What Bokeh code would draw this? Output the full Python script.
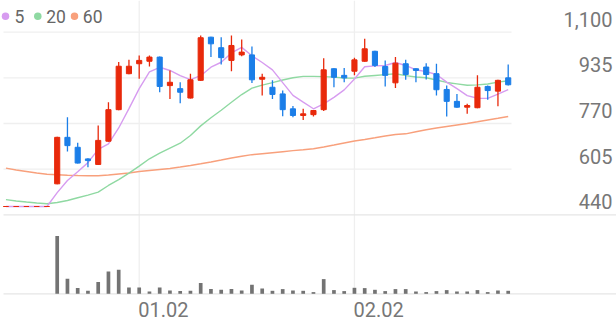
import numpy as np
import pandas as pd
from bokeh.plotting import figure
from bokeh.models import Range1d
from bokeh.core.properties import value
from bokeh.embed import file_html
from bokeh.resources import INLINE

# ---------------- data ----------------
opens = [470, 470, 470, 470, 470, 552, 720, 684, 642, 622,
         706, 820, 950, 986, 995, 1010, 907, 896, 862, 926,
         1082, 1044, 998, 1018, 1018, 930, 901, 877, 823, 799,
         802, 820, 968, 944, 959, 995, 1031, 976, 917, 986,
         968, 974, 950, 893, 850, 829, 827, 904, 887, 935]
highs = [470, 470, 470, 470, 470, 722, 793, 700, 644, 763,
         847, 992, 1000, 1016, 1016, 1012, 962, 919, 950, 1088,
         1084, 1082, 1088, 1074, 1048, 950, 926, 889, 833, 823,
         819, 1006, 970, 971, 1008, 1076, 1033, 998, 1010, 1000,
         970, 988, 986, 907, 877, 841, 944, 907, 928, 983]
lows = [470, 470, 470, 470, 470, 550, 669, 625, 612, 620,
        704, 818, 948, 932, 976, 883, 859, 843, 860, 924,
        1010, 983, 959, 1013, 916, 871, 859, 796, 793, 783,
        795, 815, 901, 919, 944, 993, 974, 904, 898, 928,
        919, 929, 871, 795, 827, 805, 825, 856, 832, 907]
closes = [470, 470, 470, 470, 470, 720, 690, 627, 636, 709,
          820, 977, 977, 998, 1010, 904, 919, 883, 928, 1080,
          1058, 1008, 1052, 1028, 928, 937, 875, 820, 799, 805,
          817, 964, 937, 935, 1000, 1040, 980, 944, 988, 947,
          962, 947, 892, 850, 829, 835, 901, 889, 926, 910]
volumes = [0, 0, 0, 0, 0, 5770, 1500, 570, 300, 1170,
           2230, 2400, 630, 630, 230, 630, 330, 270, 300, 1070,
           470, 400, 470, 330, 900, 530, 300, 470, 330, 300,
           170, 1470, 370, 270, 600, 570, 400, 270, 470, 470,
           230, 170, 270, 370, 230, 230, 370, 170, 330, 300]
ma20 = [494.7, 490.0, 486.3, 482.7, 479.8, 484.5, 491.8, 501.5, 511.3, 522.0,
        546.0, 567.0, 590.8, 616.0, 642.5, 662.7, 680.8, 698.8, 726.7, 761.4,
        790.8, 817.7, 846.8, 874.7, 897.6, 908.5, 917.7, 927.4, 935.5, 940.3,
        940.2, 939.5, 937.5, 934.4, 933.9, 940.7, 943.7, 946.8, 949.8, 943.1,
        938.3, 935.3, 927.3, 918.4, 913.4, 908.3, 909.6, 913.0, 919.4, 924.7]
ma60 = [608.5, 602.0, 596.6, 591.1, 586.8, 585.0, 583.2, 582.1, 581.4, 581.4,
        583.9, 587.5, 591.1, 596.6, 600.2, 603.8, 607.4, 612.8, 618.3, 624.4,
        630.8, 638.0, 645.4, 651.8, 657.3, 660.9, 664.5, 668.1, 671.8, 675.0,
        678.6, 685.1, 692.3, 699.6, 706.8, 712.2, 718.4, 724.9, 730.3, 732.7,
        740.0, 747.3, 753.8, 759.2, 764.6, 770.0, 776.2, 782.7, 788.8, 795.3]
price_ticks = [440, 605, 770, 935, 1100]
date_tick_idx = [13, 34]
date_tick_labels = ["01.02", "02.02"]
legend_labels = ["5", "20", "60"]

ma5 = pd.Series(closes).rolling(5, min_periods=1).mean().tolist()

# ---------------- layout / style ----------------
W, H = 616, 321
STEP = 10.25        # px per candle
X0_PX = 5.45        # px of the first candle
LEFT_PX, GRID_RIGHT_PX = 3, 511
TOP_TICK_PX, BOT_TICK_PX = 31.7, 214.3
VOL_BASE_PX, VOL_MAX_H = 293.3, 57.7
FONT = "Roboto"
UP, DOWN = "#e8290b", "#1b7ee8"
C5, C20, C60 = "#d79cf0", "#8fd9a2", "#f8a07c"

N = len(closes)
idx = list(range(N))

x_start = -X0_PX / STEP
x_end = x_start + W / STEP
k = (price_ticks[-1] - price_ticks[0]) / (BOT_TICK_PX - TOP_TICK_PX)
y_end = price_ticks[-1] + TOP_TICK_PX * k
y_start = price_ticks[0] - (H - BOT_TICK_PX) * k
kv = max(volumes) / VOL_MAX_H
v_end = VOL_BASE_PX * kv
v_start = -(H - VOL_BASE_PX) * kv

def px_x(px):
    return x_start + px / STEP

def px_y(py):
    return y_end - py * k

p = figure(width=W, height=H, x_range=Range1d(x_start, x_end),
           y_range=Range1d(y_start, y_end), output_backend="svg",
           toolbar_location=None, min_border=0, x_axis_location=None,
           y_axis_location=None)
p.extra_y_ranges = {"vol": Range1d(v_start, v_end)}
p.grid.visible = False
p.outline_line_color = None
p.background_fill_color = "white"
p.border_fill_color = "white"

gl, gr = px_x(LEFT_PX), px_x(GRID_RIGHT_PX)

# horizontal price grid
p.segment(x0=[gl] * 4, x1=[gr] * 4, y0=price_ticks[1:], y1=price_ticks[1:],
          line_color="#efefef", line_width=1.3)
# vertical date grid
p.segment(x0=date_tick_idx, x1=date_tick_idx, y0=[0] * 2, y1=[v_end] * 2,
          y_range_name="vol", line_color="#efefef", line_width=1.3)
# panel separators
p.segment(x0=[gl], x1=[x_end], y0=[price_ticks[0]], y1=[price_ticks[0]],
          line_color="#e6e6e6", line_width=1.3)
p.segment(x0=[gl], x1=[x_end], y0=[0], y1=[0], y_range_name="vol",
          line_color="#e6e6e6", line_width=1.3)

# moving averages
p.line(idx, ma60, line_color=C60, line_width=1.4)
p.line(idx, ma20, line_color=C20, line_width=1.4)
p.line(idx, ma5, line_color=C5, line_width=1.4)

# candles
colors = [UP if c >= o else DOWN for o, c in zip(opens, closes)]
tops = [max(o, c) for o, c in zip(opens, closes)]
bots = [min(o, c) for o, c in zip(opens, closes)]
p.segment(x0=idx, x1=idx, y0=lows, y1=highs, line_color=colors, line_width=1.3)
p.vbar(x=idx, width=0.5, top=tops, bottom=bots, fill_color=colors,
       line_color=colors, line_width=1)

# volume
p.vbar(x=idx, width=0.36, top=volumes, bottom=0, y_range_name="vol",
       fill_color="#737373", line_color=None)

# y labels
p.text(x=[x_end] * len(price_ticks), y=price_ticks,
       text=[f"{t:,}" for t in price_ticks], text_align="right",
       text_baseline="middle", x_offset=-4, y_offset=-13,
       text_font=value(FONT), text_font_size="20px", text_color="#777777")
# date labels
p.text(x=date_tick_idx, y=[0] * len(date_tick_idx), y_range_name="vol",
       text=date_tick_labels, text_align="left", text_baseline="middle",
       x_offset=-1, y_offset=16, text_font=value(FONT),
       text_font_size="20px", text_color="#777777")

# legend
dot_px = [5, 37.3, 74]
txt_px = [14, 45.7, 82.3]
p.scatter(x=[px_x(v) for v in dot_px], y=[px_y(15.7)] * 3, size=7.5,
          marker="circle", fill_color=[C5, C20, C60], line_color=None)
p.text(x=[px_x(v) for v in txt_px], y=[px_y(15.7)] * 3, text=legend_labels,
       text_align="left", text_baseline="middle", text_font=value(FONT),
       text_font_size="17.5px", text_color="#666666")

open("out.html", "w").write(file_html(p, INLINE))
